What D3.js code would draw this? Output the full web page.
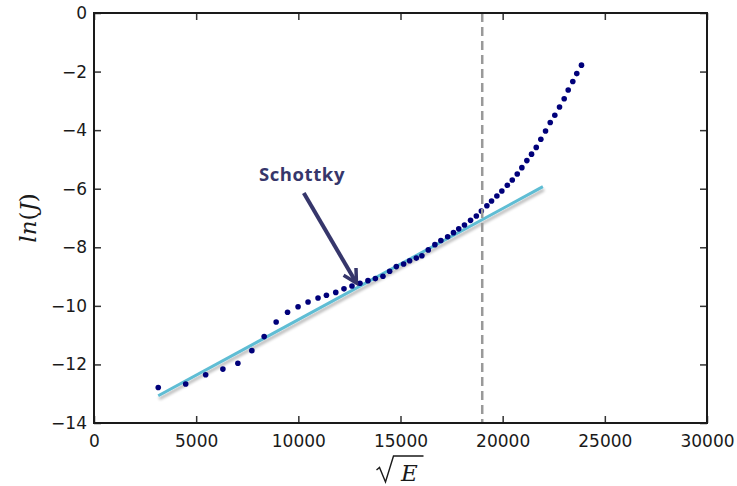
<!DOCTYPE html>
<html><head><meta charset="utf-8">
<script src="https://cdn.jsdelivr.net/npm/d3@7"></script>
<style>body{margin:0;background:#fff}</style>
</head><body><svg id="c" width="737" height="486"></svg>
<script>
const xTicks = [0, 5000, 10000, 15000, 20000, 25000, 30000];
const yTicks = [0, -2, -4, -6, -8, -10, -12, -14];
const sqrtE = [3144, 4487, 5465, 6308, 7041, 7725, 8328, 8915, 9472, 9987,
  10476, 10964, 11375, 11832, 12234, 12626, 13017, 13408, 13770, 14141,
  14469, 14796, 15153, 15446, 15774, 16047, 16360, 16683, 16976, 17308,
  17592, 17850, 18130, 18428, 18711, 18956, 19227, 19456, 19716, 19960,
  20228, 20470, 20714, 20940, 21184, 21414, 21643, 21868, 22098, 22328,
  22552, 22782, 23011, 23207, 23432, 23627, 23857];
const lnJ = [-12.79, -12.67, -12.35, -12.16, -11.96, -11.53, -11.05, -10.55, -10.22, -10.03,
  -9.87, -9.73, -9.64, -9.54, -9.42, -9.32, -9.23, -9.14, -9.07, -8.99,
  -8.82, -8.66, -8.57, -8.46, -8.37, -8.29, -8.09, -7.91, -7.77, -7.64,
  -7.50, -7.37, -7.24, -7.08, -6.93, -6.76, -6.58, -6.42, -6.25, -6.08,
  -5.88, -5.70, -5.50, -5.28, -5.04, -4.82, -4.59, -4.31, -4.03, -3.74,
  -3.49, -3.21, -2.93, -2.63, -2.34, -2.07, -1.78];
const fitX = [3144, 21968];
const fitY = [-13.07, -5.93];
const markerX = 19000;
const annotationText = "Schottky";
const annotationPos = [8070, -5.74];
const arrowTail = [10267, -6.15];
const arrowTip = [12844, -9.22];

const svg = d3.select("#c");
const x = d3.scaleLinear().domain([0, 30000]).range([94, 707]);
const y = d3.scaleLinear().domain([-14, 0]).range([423, 13]);
const fmt = d => d < 0 ? "\u2212" + Math.abs(d) : String(d);

const defs = svg.append("defs");
const f = defs.append("filter").attr("id", "sh").attr("x", "-10%").attr("y", "-10%").attr("width", "130%").attr("height", "130%");
f.append("feGaussianBlur").attr("in", "SourceAlpha").attr("stdDeviation", 1.5);
f.append("feOffset").attr("dx", 1).attr("dy", 2.5).attr("result", "ob");
f.append("feComponentTransfer").append("feFuncA").attr("type", "linear").attr("slope", 0.3);
const m = f.append("feMerge"); m.append("feMergeNode"); m.append("feMergeNode").attr("in", "SourceGraphic");

// fit line
svg.append("line")
  .attr("x1", x(fitX[0])).attr("y1", y(fitY[0]))
  .attr("x2", x(fitX[1])).attr("y2", y(fitY[1]))
  .attr("stroke", "#5ebdd4").attr("stroke-width", 3).attr("filter", "url(#sh)");

// dots
svg.append("g").selectAll("circle").data(sqrtE).join("circle")
  .attr("cx", d => x(d)).attr("cy", (d, i) => y(lnJ[i]))
  .attr("r", 2.8).attr("fill", "#00007a");

// dashed vertical
svg.append("line")
  .attr("x1", x(markerX)).attr("x2", x(markerX))
  .attr("y1", y(0)).attr("y2", y(-14))
  .attr("stroke", "#999").attr("stroke-width", 2.5).attr("stroke-dasharray", "9,5");

// axes with inward ticks
const tickStyle = g => {
  g.select(".domain").remove();
  g.selectAll(".tick line").attr("stroke", "#333").attr("stroke-width", 1.5);
  g.selectAll("text").attr("font-family", "DejaVu Sans").attr("font-size", 17).attr("fill", "#1a1a1a");
};
svg.append("g").attr("transform", `translate(0,${y(-14)})`)
  .call(d3.axisBottom(x).tickValues(xTicks).tickSizeInner(-7).tickSizeOuter(0).tickPadding(12).tickFormat(fmt))
  .call(tickStyle);
svg.append("g").attr("transform", `translate(0,${y(0)})`)
  .call(d3.axisTop(x).tickValues(xTicks).tickSizeInner(-7).tickSizeOuter(0).tickFormat(""))
  .call(tickStyle);
svg.append("g").attr("transform", `translate(${x(0)},0)`)
  .call(d3.axisLeft(y).tickValues(yTicks).tickSizeInner(-7).tickSizeOuter(0).tickPadding(7).tickFormat(fmt))
  .call(tickStyle);
svg.append("g").attr("transform", `translate(${x(30000)},0)`)
  .call(d3.axisRight(y).tickValues(yTicks).tickSizeInner(-7).tickSizeOuter(0).tickFormat(""))
  .call(tickStyle);

// frame
svg.append("rect").attr("x", x(0)).attr("y", y(0))
  .attr("width", x(30000) - x(0)).attr("height", y(-14) - y(0))
  .attr("fill", "none").attr("stroke", "#1a1a1a").attr("stroke-width", 2);

// annotation
svg.append("text").attr("x", x(annotationPos[0])).attr("y", y(annotationPos[1]))
  .attr("font-family", "Open Sans").attr("font-weight", 700).attr("font-size", 18.5)
  .attr("letter-spacing", 0.6)
  .attr("fill", "#36366b").text(annotationText);
const ax1 = x(arrowTail[0]), ay1 = y(arrowTail[1]), ax2 = x(arrowTip[0]), ay2 = y(arrowTip[1]);
const ang = Math.atan2(ay2 - ay1, ax2 - ax1), L = 15, spread = 0.5;
svg.append("line").attr("x1", ax1).attr("y1", ay1).attr("x2", ax2 - 2 * Math.cos(ang)).attr("y2", ay2 - 2 * Math.sin(ang))
  .attr("stroke", "#36366b").attr("stroke-width", 4);
svg.append("path")
  .attr("d", `M${ax2 - L * Math.cos(ang - spread)},${ay2 - L * Math.sin(ang - spread)}L${ax2},${ay2}L${ax2 - L * Math.cos(ang + spread)},${ay2 - L * Math.sin(ang + spread)}`)
  .attr("fill", "none").attr("stroke", "#36366b").attr("stroke-width", 3.5).attr("stroke-linejoin", "miter");

// axis labels
const cx = (x(0) + x(30000)) / 2;
svg.append("path")
  .attr("d", `M${cx - 24},${470} L${cx - 21},${467.5} L${cx - 15},${482} L${cx - 7},${456} L${cx + 23},${456}`)
  .attr("fill", "none").attr("stroke", "#1a1a1a").attr("stroke-width", 1.4).attr("stroke-linejoin", "miter");
svg.append("text").attr("x", cx + 9).attr("y", 481).attr("text-anchor", "middle")
  .attr("font-family", "DejaVu Serif").attr("font-style", "italic").attr("font-size", 23).attr("fill", "#1a1a1a").text("E");

const cy = (y(0) + y(-14)) / 2;
const yl = svg.append("text").attr("transform", `translate(36,${cy}) rotate(-90)`).attr("text-anchor", "middle")
  .attr("font-family", "DejaVu Serif").attr("font-size", 23).attr("fill", "#1a1a1a");
yl.append("tspan").attr("font-style", "italic").text("ln");
yl.append("tspan").text("(");
yl.append("tspan").attr("font-style", "italic").text("J");
yl.append("tspan").text(")");
</script></body></html>
